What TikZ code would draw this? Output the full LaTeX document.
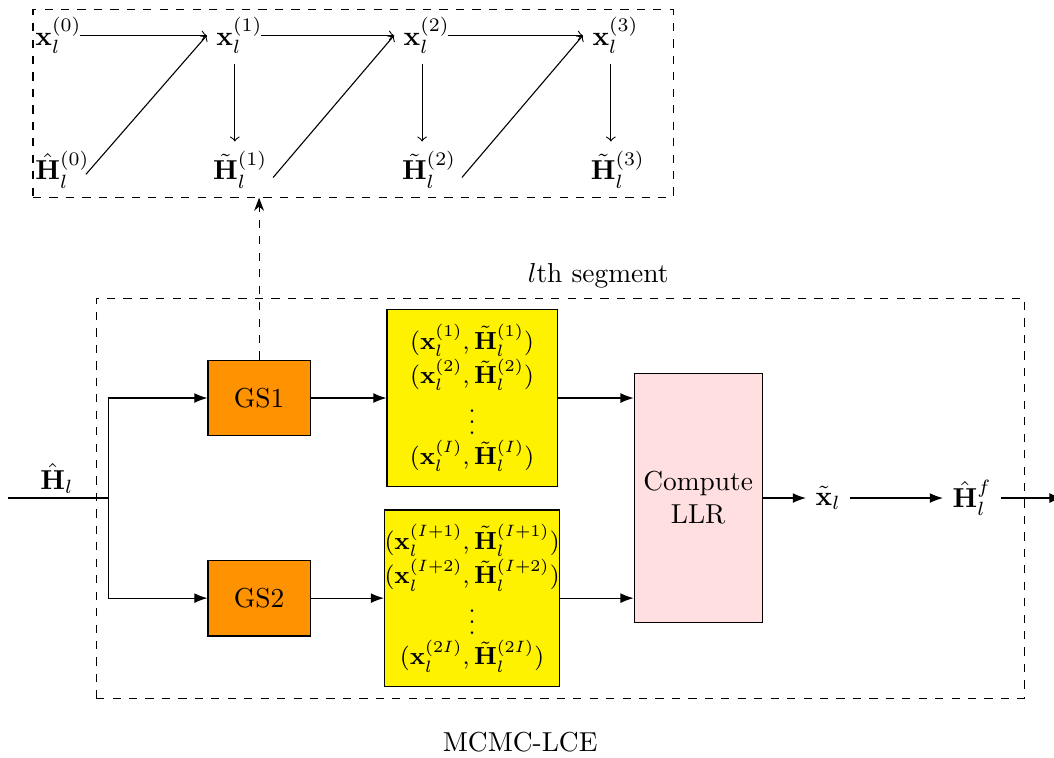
\documentclass[tikz,border=0pt]{standalone}
\usepackage{amsmath, amssymb}
\usepackage{tikz}
\usetikzlibrary{arrows.meta,calc}
\definecolor{gsorange}{RGB}{255,146,0}

\begin{document}
\begin{tikzpicture}[>=Latex,
    gsblock/.style={draw, fill=gsorange, minimum width=1.31cm, minimum height=0.97cm},
    pairblock/.style={draw, fill=yellow, font=\small, minimum width=2.18cm, minimum height=2.26cm, inner sep=0pt, align=center},
    llrblock/.style={draw, fill=pink!50, minimum width=1.62cm, minimum height=3.2cm, align=center}]
    \useasboundingbox (0,0) rectangle (13.51,9.705);

    % sampler chain
    \node (x0) at (0.75,9.25) {$\mathbf{x}_l^{(0)}$};
    \node (x1) at (3.07,9.25) {$\mathbf{x}_l^{(1)}$};
    \node (x2) at (5.47,9.25) {$\mathbf{x}_l^{(2)}$};
    \node (x3) at (7.89,9.25) {$\mathbf{x}_l^{(3)}$};
    \node (h0) at (0.80,7.53) {$\hat{\mathbf{H}}_l^{(0)}$};
    \node (h1) at (3.08,7.53) {$\tilde{\mathbf{H}}_l^{(1)}$};
    \node (h2) at (5.50,7.53) {$\tilde{\mathbf{H}}_l^{(2)}$};
    \node (h3) at (7.92,7.53) {$\tilde{\mathbf{H}}_l^{(3)}$};
    \node[draw, dashed, minimum width=8.205cm, minimum height=2.4cm] (chain) at (4.526,8.378) {};

    \draw[-to] ([xshift=-0.15cm]x0.east) -- (x1.west);
    \draw[-to] ([xshift=-0.15cm]x1.east) -- (x2.west);
    \draw[-to] ([xshift=-0.15cm]x2.east) -- (x3.west);
    \draw[-to] ([xshift=-0.06cm]x1.south) -- ([xshift=-0.06cm]x1.south |- h1.north);
    \draw[-to] ([xshift=-0.06cm]x2.south) -- ([xshift=-0.06cm]x2.south |- h2.north);
    \draw[-to] ([xshift=-0.06cm]x3.south) -- ([xshift=-0.06cm]x3.south |- h3.north);
    \draw[-to] ([xshift=-0.17cm,yshift=-0.06cm]h0.east) -- (x1.west);
    \draw[-to] ([xshift=-0.05cm,yshift=-0.1cm]h1.east) -- (x2.west);
    \draw[-to] ([xshift=-0.05cm,yshift=-0.1cm]h2.east) -- (x3.west);

    % segment
    \node[draw, dashed, minimum width=11.897cm, minimum height=5.129cm] (seg) at (7.18,3.32) {};
    \node (seglabel) at (7.667,6.167) {$l$th segment};
    \node (title) at (6.667,0.19) {MCMC-LCE};

    \node[gsblock] (gs1) at (3.321,4.603) {GS1};
    \node[gsblock] (gs2) at (3.321,2.038) {GS2};
    \node[pairblock] (pair1) at (6.051,4.603) {%
        $(\mathbf{x}_l^{(1)},\tilde{\mathbf{H}}_l^{(1)})$\\
        $(\mathbf{x}_l^{(2)},\tilde{\mathbf{H}}_l^{(2)})$\\
        $\vdots$\\
        $(\mathbf{x}_l^{(I)},\tilde{\mathbf{H}}_l^{(I)})$};
    \node[pairblock] (pair2) at (6.051,2.038) {%
        $(\mathbf{x}_l^{(I+1)},\tilde{\mathbf{H}}_l^{(I+1)})$\\
        $(\mathbf{x}_l^{(I+2)},\tilde{\mathbf{H}}_l^{(I+2)})$\\
        $\vdots$\\
        $(\mathbf{x}_l^{(2I)},\tilde{\mathbf{H}}_l^{(2I)})$};
    \node[llrblock] (llr) at (8.949,3.321) {Compute\\LLR};
    \node (xt) at (10.615,3.321) {$\tilde{\mathbf{x}}_l$};
    \node (hf) at (12.46,3.321) {$\hat{\mathbf{H}}_l^{f}$};
    \node (hin) at (0.731,3.577) {$\hat{\mathbf{H}}_l$};
    \coordinate (in) at (0.103,3.321);
    \coordinate (split) at (1.385,3.321);
    \coordinate (out) at (13.62,3.321);

    \draw (in) -- (split);
    \draw[->] (split) |- (gs1.west);
    \draw[->] (split) |- (gs2.west);
    \draw[->] (gs1.east) -- (gs1.east -| pair1.west);
    \draw[->] (gs2.east) -- (gs2.east -| pair2.west);
    \draw[->] (pair1.east) -- (pair1.east -| llr.west);
    \draw[->] (pair2.east) -- (pair2.east -| llr.west);
    \draw[->] (llr) -- (xt);
    \draw[->] (xt) -- (hf);
    \draw[->] (hf) -- (out);
    \draw[dashed, -Stealth] (gs1) -- (gs1 |- chain.south);
\end{tikzpicture}
\end{document}
